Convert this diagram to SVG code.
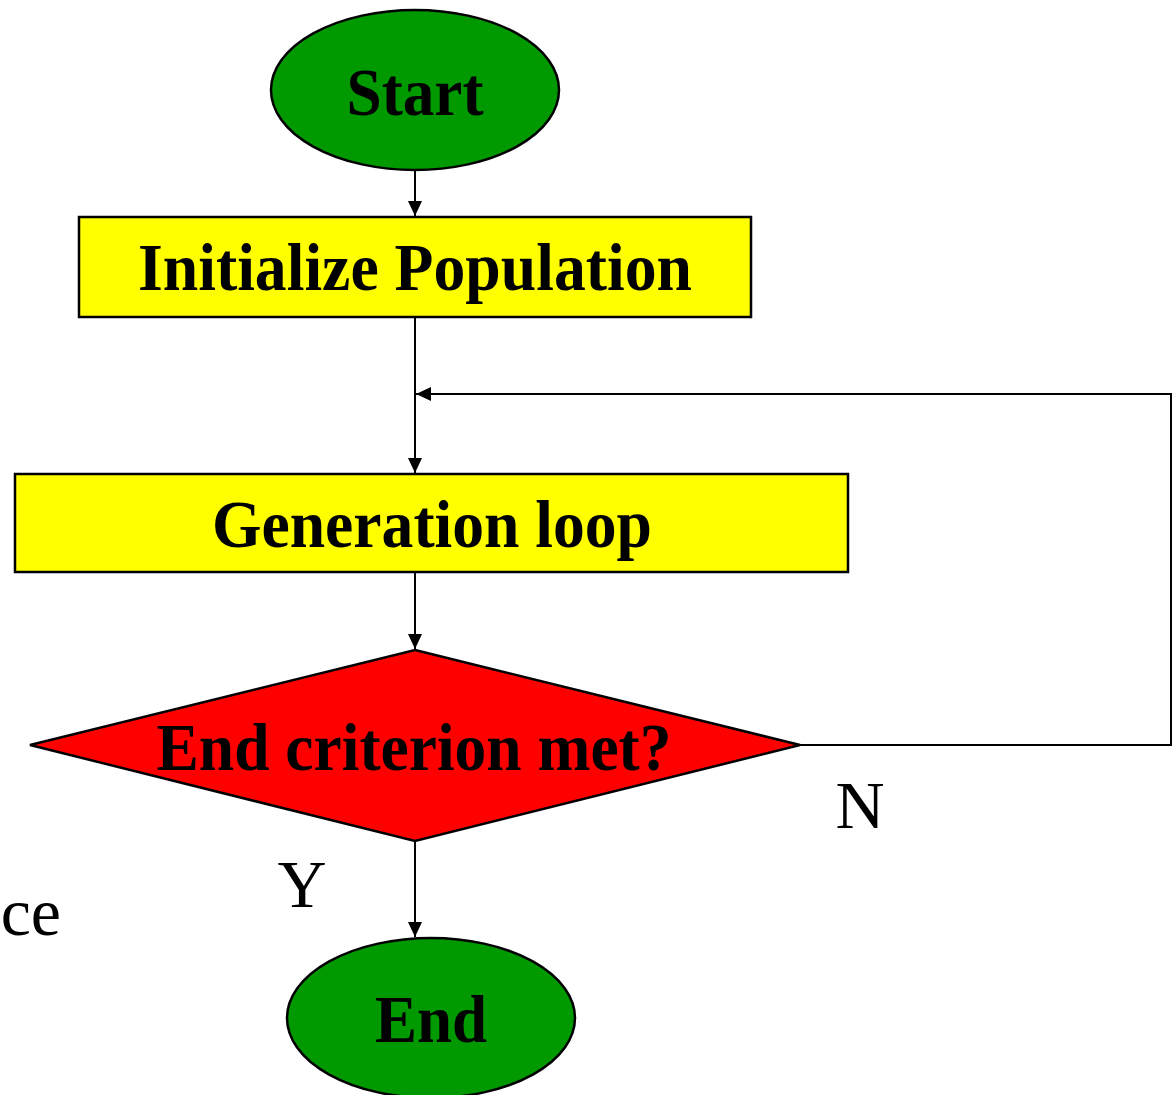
<svg xmlns="http://www.w3.org/2000/svg" width="1175" height="1095" viewBox="0 0 1175 1095">
<defs>
<marker id="arr" viewBox="0 0 15 14" refX="15" refY="7" markerWidth="15" markerHeight="14" markerUnits="userSpaceOnUse" orient="auto">
<path d="M0,0 L15,7 L0,14 Z" fill="#000"/>
</marker>
</defs>
<style>
.term{fill:#009900;stroke:#000;stroke-width:2.5}
.box{fill:#ffff00;stroke:#000;stroke-width:2.5}
.dec{fill:#ff0000;stroke:#000;stroke-width:2.5}
.lbl{font-family:"Liberation Serif","Times New Roman",serif;font-weight:bold;font-size:68px;fill:#000}
.lab{font-family:"Liberation Serif","Times New Roman",serif;font-size:68px;fill:#000}
.con{fill:none;stroke:#000;stroke-width:2}
</style>
<rect width="1175" height="1095" fill="#fff"/>
<g id="connectors">
<line class="con" x1="415" y1="170" x2="415" y2="216" marker-end="url(#arr)"/>
<line class="con" x1="415" y1="317" x2="415" y2="473" marker-end="url(#arr)"/>
<polyline class="con" points="800,745 1171,745 1171,394 416,394" marker-end="url(#arr)"/>
<line class="con" x1="415" y1="572" x2="415" y2="649" marker-end="url(#arr)"/>
<line class="con" x1="415" y1="841" x2="415" y2="937" marker-end="url(#arr)"/>
</g>
<g id="start">
<ellipse class="term" cx="415" cy="90" rx="144" ry="80"/>
<text class="lbl" x="415" y="115" text-anchor="middle" textLength="137" lengthAdjust="spacingAndGlyphs">Start</text>
</g>
<g id="init">
<rect class="box" x="79" y="217" width="672" height="100"/>
<text class="lbl" x="415" y="290" text-anchor="middle" textLength="554" lengthAdjust="spacingAndGlyphs">Initialize Population</text>
</g>
<g id="gen">
<rect class="box" x="15" y="474" width="833" height="98"/>
<text class="lbl" x="432" y="547" text-anchor="middle" textLength="440" lengthAdjust="spacingAndGlyphs">Generation loop</text>
</g>
<g id="decision">
<polygon class="dec" points="415,650 800,745 415,841 30,745"/>
<text class="lbl" x="414" y="770" text-anchor="middle" textLength="515" lengthAdjust="spacingAndGlyphs">End criterion met?</text>
</g>
<g id="end">
<ellipse class="term" cx="431" cy="1018" rx="144" ry="80"/>
<text class="lbl" x="431" y="1042" text-anchor="middle" textLength="112" lengthAdjust="spacingAndGlyphs">End</text>
</g>
<g id="labels">
<text class="lab" x="860" y="828" text-anchor="middle">N</text>
<text class="lab" x="302" y="907" text-anchor="middle">Y</text>
<text class="lab" x="61" y="935" text-anchor="end">ace</text>
</g>
</svg>
